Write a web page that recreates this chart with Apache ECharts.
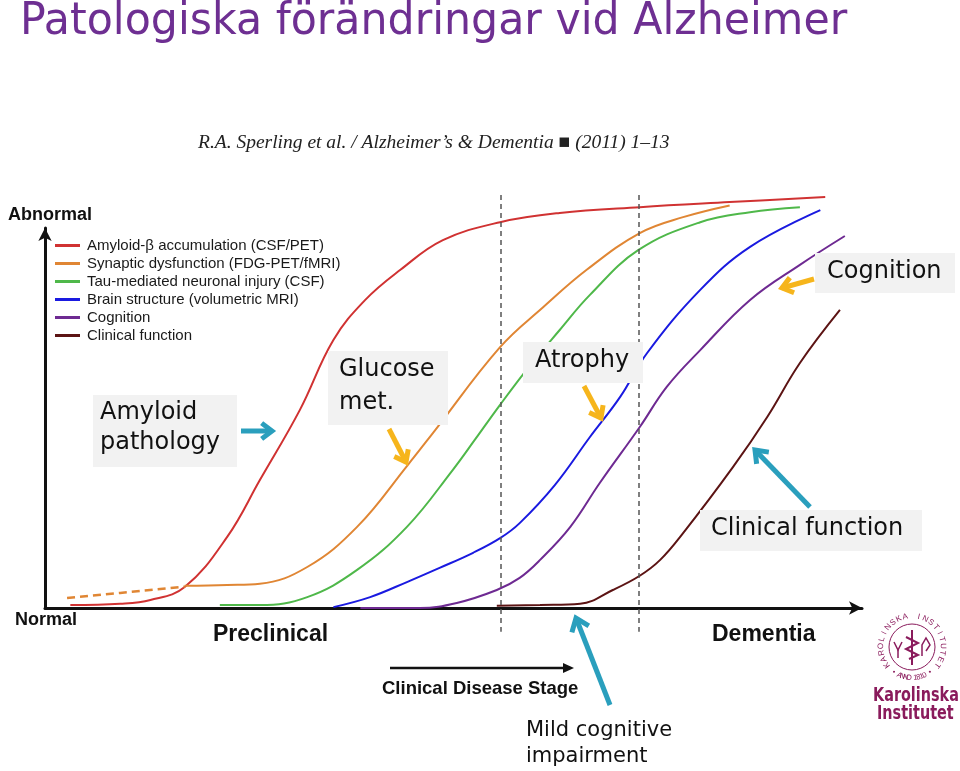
<!DOCTYPE html>
<html>
<head>
<meta charset="utf-8">
<title>Patologiska förändringar vid Alzheimer</title>
<script src="https://cdn.jsdelivr.net/npm/echarts@6/dist/echarts.min.js"></script>
<style>
  html, body { margin: 0; padding: 0; background: #fff; }
  #app { width: 960px; height: 771px; }
</style>
</head>
<body>
<div id="app"></div>
<script>
// x = disease time (0-100), y = abnormality (0 = normal, 100 = abnormal)
const amyloid = [[3.1,0.7],[9.2,1.0],[12.9,1.9],[17.1,5.0],[22.3,17.0],[26.3,30.6],[31.2,47.4],[35.3,64.1],[39.2,73.7],[43.5,80.9],[48.7,88.0],[55.7,92.3],[63.0,94.5],[72.8,95.9],[83.8,97.1],[95.5,98.3]];
const synapticEarly = [[2.7,2.4],[9.2,3.6],[17.1,5.1]];
const synaptic = [[17.1,5.3],[22.3,5.5],[26.3,5.8],[32.1,9.8],[38.2,19.4],[44.4,34.2],[47.5,41.9],[55.7,62.4],[61.0,72.0],[66.3,80.9],[72.8,89.7],[78.1,93.5],[83.8,96.3]];
const tau = [[21.4,0.7],[26.3,0.7],[32.1,2.6],[38.2,9.1],[44.3,19.4],[49.9,33.0],[52.6,40.2],[55.7,48.6],[59.4,58.1],[63.0,66.5],[66.7,74.9],[72.6,85.6],[80.2,92.3],[86.3,94.7],[92.4,95.9]];
const brain = [[35.3,0.2],[39.8,2.6],[44.3,6.2],[48.3,9.6],[52.4,13.2],[55.7,16.7],[58.1,20.3],[62.4,29.4],[66.7,40.9],[70.4,50.5],[73.7,61.0],[80.2,76.1],[86.3,86.4],[94.9,95.2]];
const cognition = [[38.6,0],[45.9,0],[50.4,1.2],[55.3,4.3],[58.1,7.2],[60.6,11.5],[64.3,19.4],[67.9,29.9],[72.8,43.3],[76.1,52.9],[80.2,61.7],[86.3,73.7],[92.4,82.1],[97.9,89.0]];
const clinical = [[55.3,0.5],[60.6,0.7],[65.5,1.0],[69.5,4.3],[72.8,7.7],[75.3,11.5],[78.1,17.9],[84.2,33.7],[88.4,45.7],[92.4,58.6],[97.3,71.3]];

const seriesNames = ['Amyloid-β accumulation (CSF/PET)', 'Synaptic dysfunction (FDG-PET/fMRI)', 'Tau-mediated neuronal injury (CSF)', 'Brain structure (volumetric MRI)', 'Cognition', 'Clinical function'];
const seriesColors = ['#d03232', '#e08634', '#4fb84a', '#1a1ae0', '#6e2a92', '#5c1414'];
const stageBounds = [55.8, 72.7];
const stageLabels = ['Preclinical', 'Dementia'];

const chart = echarts.init(document.getElementById('app'));

const teal = '#2a9fbd';
const yellow = '#f6b51c';
const sans = 'Liberation Sans, Arial, sans-serif';
const slide = 'DejaVu Sans, sans-serif';

// arrow with an open chevron head
function arrow(x1, y1, x2, y2, color, w, h) {
  const a = Math.atan2(y2 - y1, x2 - x1);
  const s = 0.65;
  return [
    { type: 'line', z: 110, shape: { x1, y1, x2, y2 }, style: { stroke: color, lineWidth: w } },
    { type: 'polyline', z: 110, shape: { points: [
      [x2 - h * Math.cos(a - s), y2 - h * Math.sin(a - s)], [x2, y2],
      [x2 - h * Math.cos(a + s), y2 - h * Math.sin(a + s)]] },
      style: { stroke: color, lineWidth: w, fill: null, lineJoin: 'miter' } }
  ];
}

function box(x, y, w, h) {
  return { type: 'rect', z: 100, shape: { x, y, width: w, height: h }, style: { fill: '#f2f2f2' } };
}

function txt(x, y, text, opt) {
  return { type: 'text', z: 120, x, y, style: Object.assign({ text, fill: '#111', verticalAlign: 'middle', align: 'left' }, opt) };
}

// Karolinska seal, ring letters
const logoColor = '#8a1b5c';
const ringText = 'KAROLINSKA INSTITUTET';
const ring = [];
const cx = 912, cy = 647, rr = 31;
for (let i = 0; i < ringText.length; i++) {
  const ang = Math.PI * (1.2 - i * (1.4 / (ringText.length - 1)));
  ring.push({
    type: 'text', z: 120, x: cx + rr * Math.cos(ang), y: cy - rr * Math.sin(ang),
    rotation: ang - Math.PI / 2,
    style: { text: ringText[i], fontSize: 8, fontFamily: sans, fill: logoColor, align: 'center', verticalAlign: 'middle' }
  });
}
const annoText = '• ANNO 1810 •';
for (let i = 0; i < annoText.length; i++) {
  const ang = Math.PI * (1.3 + i * (0.4 / (annoText.length - 1)));
  ring.push({
    type: 'text', z: 120, x: cx + rr * Math.cos(ang), y: cy - rr * Math.sin(ang),
    rotation: ang + Math.PI / 2,
    style: { text: annoText[i], fontSize: 7.5, fontFamily: sans, fill: logoColor, align: 'center', verticalAlign: 'middle' }
  });
}

const graphic = [
  { type: 'text', x: 20, y: 23, scaleX: 0.97, style: { text: 'Patologiska förändringar vid Alzheimer', fontSize: 44, fontFamily: slide, fill: '#6e2f92', verticalAlign: 'middle' } },
  txt(198, 143, 'R.A. Sperling et al. / Alzheimer\u2019s & Dementia \u25A0 (2011) 1\u201313', { fontSize: 19.5, fontStyle: 'italic', fontFamily: 'Liberation Serif, serif', fill: '#222' }),
  txt(8, 215, 'Abnormal', { fontSize: 18, fontWeight: 'bold', fontFamily: sans }),
  txt(15, 620, 'Normal', { fontSize: 18, fontWeight: 'bold', fontFamily: sans }),
  txt(213, 635, stageLabels[0], { fontSize: 23, fontWeight: 'bold', fontFamily: sans }),
  txt(712, 635, stageLabels[1], { fontSize: 23, fontWeight: 'bold', fontFamily: sans }),
  txt(382, 689, 'Clinical Disease Stage', { fontSize: 18.5, fontWeight: 'bold', fontFamily: sans }),
  { type: 'line', shape: { x1: 390, y1: 668, x2: 566, y2: 668 }, style: { stroke: '#111', lineWidth: 2.5 } },
  { type: 'polygon', shape: { points: [[574, 668], [563, 663], [563, 673]] }, style: { fill: '#111' } },

  box(93, 395, 144, 72),
  txt(100, 428, 'Amyloid\npathology', { fontSize: 24, fontFamily: slide, lineHeight: 30 }),
  ...arrow(241, 431, 272, 431, teal, 5, 13),

  box(328, 351, 120, 74),
  txt(339, 386, 'Glucose\nmet.', { fontSize: 24, fontFamily: slide, lineHeight: 33 }),
  ...arrow(389, 429, 406, 462, yellow, 5, 13),

  box(523, 342, 120, 41),
  txt(535, 361, 'Atrophy', { fontSize: 24, fontFamily: slide }),
  ...arrow(584, 386, 601, 418, yellow, 5, 13),

  box(815, 253, 140, 40),
  txt(827, 272, 'Cognition', { fontSize: 24, fontFamily: slide }),
  ...arrow(814, 279, 782, 288, yellow, 5, 13),

  box(700, 510, 222, 41),
  txt(711, 529, 'Clinical function', { fontSize: 24, fontFamily: slide }),
  ...arrow(810, 507, 755, 450, teal, 5, 14),

  txt(526, 744, 'Mild cognitive\nimpairment', { fontSize: 21, fontFamily: slide, lineHeight: 26 }),
  ...arrow(610, 705, 576, 618, teal, 5, 15),

  // logo
  { type: 'circle', z: 110, shape: { cx, cy, r: 23 }, style: { fill: null, stroke: logoColor, lineWidth: 1 } },
  { type: 'line', z: 110, shape: { x1: cx, y1: cy - 17, x2: cx, y2: cy + 18 }, style: { stroke: logoColor, lineWidth: 2 } },
  { type: 'polyline', z: 110, shape: { points: [[cx - 6, cy - 10], [cx + 6, cy - 4], [cx - 6, cy + 2], [cx + 6, cy + 8], [cx - 3, cy + 12]] }, style: { stroke: logoColor, lineWidth: 2, fill: null } },
  { type: 'polyline', z: 110, shape: { points: [[cx - 18, cy - 5], [cx - 14, cy + 3], [cx - 10, cy - 5]] }, style: { stroke: logoColor, lineWidth: 1.5, fill: null } },
  { type: 'line', z: 110, shape: { x1: cx - 14, y1: cy + 3, x2: cx - 14, y2: cy + 11 }, style: { stroke: logoColor, lineWidth: 1.5 } },
  { type: 'polyline', z: 110, shape: { points: [[cx + 10, cy + 9], [cx + 10, cy - 2], [cx + 14, cy - 9], [cx + 18, cy - 2], [cx + 14, cy + 4]] }, style: { stroke: logoColor, lineWidth: 1.5, fill: null } },
  ...ring,
  { type: 'text', z: 120, x: 873, y: 696, scaleX: 0.72, style: { text: 'Karolinska', fontSize: 20, fontWeight: 'bold', fontFamily: slide, fill: logoColor, verticalAlign: 'middle' } },
  { type: 'text', z: 120, x: 877, y: 714, scaleX: 0.72, style: { text: 'Institutet', fontSize: 20, fontWeight: 'bold', fontFamily: slide, fill: logoColor, verticalAlign: 'middle' } }
];

const curveData = [amyloid, synaptic, tau, brain, cognition, clinical];
const series = curveData.map((d, i) => ({
  name: seriesNames[i],
  type: 'line',
  xAxisIndex: 0,
  yAxisIndex: 0,
  data: d,
  smooth: 0.4,
  showSymbol: false,
  symbol: 'none',
  color: seriesColors[i],
  lineStyle: { width: 2, color: seriesColors[i] },
  silent: true,
  z: 3
}));
series.push({
  name: 'synaptic-early',
  type: 'line',
  data: synapticEarly,
  showSymbol: false,
  symbol: 'none',
  lineStyle: { width: 2.5, type: [8, 5], color: seriesColors[1] },
  silent: true,
  z: 3,
  markLine: {
    silent: true,
    symbol: 'none',
    label: { show: false },
    lineStyle: { color: '#555', width: 1.5, type: [5, 4] },
    data: stageBounds.map(x => [{ coord: [x, 98.8] }, { coord: [x, -5.7] }])
  }
});

const option = {
  animation: false,
  backgroundColor: '#fff',
  grid: [
    { left: 45, top: 190, width: 817, height: 451.4, outerBoundsMode: 'none' },
    { left: 45, top: 228, width: 817, height: 380, outerBoundsMode: 'none' }
  ],
  xAxis: [
    { type: 'value', gridIndex: 0, min: 0, max: 100,
      axisLine: { show: true, onZero: true, symbol: ['none', 'arrow'], symbolSize: [10, 13], lineStyle: { color: '#111', width: 3 } },
      axisTick: { show: false }, axisLabel: { show: false }, splitLine: { show: false } },
    { type: 'value', gridIndex: 1, min: 0, max: 100, show: false }
  ],
  yAxis: [
    { type: 'value', gridIndex: 0, min: -8, max: 100, show: false },
    { type: 'value', gridIndex: 1, min: 0, max: 1,
      axisLine: { show: true, symbol: ['none', 'arrow'], symbolSize: [10, 13], lineStyle: { color: '#111', width: 3 } },
      axisTick: { show: false }, axisLabel: { show: false }, splitLine: { show: false } }
  ],
  legend: {
    data: seriesNames,
    orient: 'vertical',
    left: 55,
    top: 238,
    padding: 0,
    icon: 'rect',
    itemWidth: 25,
    itemHeight: 3,
    itemGap: 3,
    selectedMode: false,
    textStyle: { fontSize: 15, lineHeight: 15, fontFamily: sans, color: '#1a1a1a', padding: [0, 0, 0, 2] }
  },
  series,
  graphic
};

chart.setOption(option);
</script>
</body>
</html>
